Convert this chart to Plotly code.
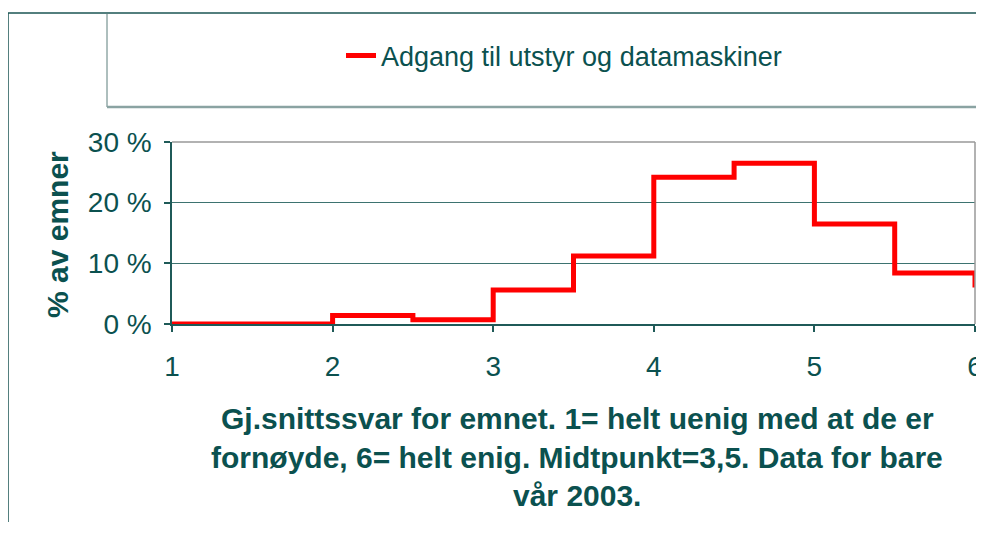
import plotly.graph_objects as go

# ---- data ----
x_vals = [1, 1.5, 2, 2.5, 3, 3.5, 4, 4.5, 5, 5.5, 6]
pct_vals = [0, 0, 1.4, 0.7, 5.6, 11.2, 24.2, 26.5, 16.5, 8.4, 6.0]
series_name = "Adgang til utstyr og datamaskiner"
y_ticks = [0, 10, 20, 30]
y_ticklabels = ["0 %", "10 %", "20 %", "30 %"]
x_ticks = [1, 2, 3, 4, 5, 6]
y_title = "% av emner"
x_title_lines = [
    "Gj.snittssvar for emnet. 1= helt uenig med at de er",
    "fornøyde, 6= helt enig. Midtpunkt=3,5. Data for bare",
    "vår 2003.",
]

TEXT = "#0b514f"
GRID = "#3d7370"
FONT = "Liberation Sans, Arial, sans-serif"

OFF = 8  # page body margin
W, H = 984 - OFF, 514
L = 172 - OFF
R = W - (975 - OFF)
T = 142 - OFF
B = H - (324 - OFF)
PW = W - L - R
PH = H - T - B


def px_x(p):  # window pixel -> paper
    return (p - OFF - L) / PW


def px_y(p):
    return (H - B - (p - OFF)) / PH


fig = go.Figure()
fig.add_trace(go.Scatter(
    x=x_vals, y=pct_vals, mode="lines", name=series_name,
    line=dict(color="#ff0000", width=5, shape="hv"),
    showlegend=True,
))

RIGHT = 984
shapes = [
    # outer frame
    dict(type="line", xref="paper", yref="paper", x0=px_x(8), x1=px_x(RIGHT),
         y0=px_y(13), y1=px_y(13), line=dict(color="#1a5553", width=1.5)),
    dict(type="line", xref="paper", yref="paper", x0=px_x(8), x1=px_x(8),
         y0=px_y(13), y1=px_y(8 + H), line=dict(color="#1a5553", width=1.5)),
    # legend box
    dict(type="line", xref="paper", yref="paper", x0=px_x(107), x1=px_x(107),
         y0=px_y(13), y1=px_y(107), line=dict(color="#5d7f7d", width=1)),
    dict(type="line", xref="paper", yref="paper", x0=px_x(107), x1=px_x(RIGHT),
         y0=px_y(107), y1=px_y(107), line=dict(color="#8aa3a2", width=2.5)),
    # plot area border (top/right)
    dict(type="line", xref="paper", yref="paper", x0=0, x1=1, y0=1, y1=1,
         line=dict(color="#999999", width=1.5)),
    dict(type="line", xref="paper", yref="paper", x0=1, x1=1, y0=0, y1=1,
         line=dict(color="#999999", width=1.5)),
]

annotations = []
line_y = [418, 457, 495]
for txt, yy in zip(x_title_lines, line_y):
    annotations.append(dict(
        text="<b>" + txt + "</b>", xref="paper", yref="paper",
        x=px_x(577), y=px_y(yy), xanchor="center", yanchor="middle",
        showarrow=False, font=dict(family=FONT, size=30, color=TEXT),
    ))
annotations.append(dict(
    text="<b>" + y_title + "</b>", xref="paper", yref="paper",
    x=px_x(57), y=px_y(235), xanchor="center", yanchor="middle",
    textangle=-90, showarrow=False,
    font=dict(family=FONT, size=30, color=TEXT),
))

fig.update_layout(
    width=W, height=H,
    margin=dict(l=L, r=R, t=T, b=B, pad=0, autoexpand=False),
    paper_bgcolor="white", plot_bgcolor="white",
    font=dict(family=FONT, color=TEXT),
    shapes=shapes,
    annotations=annotations,
    legend=dict(
        x=px_x(341), y=px_y(56), xanchor="left", yanchor="middle",
        bgcolor="rgba(0,0,0,0)", borderwidth=0,
        font=dict(family=FONT, size=27, color=TEXT),
        itemwidth=30,
    ),
    xaxis=dict(
        range=[1, 6], tickvals=x_ticks, ticktext=[str(v) for v in x_ticks],
        showgrid=False, zeroline=False, automargin=False,
        showline=True, linecolor="#1f5a58", linewidth=1.5,
        ticks="outside", ticklen=6, tickcolor="#1f5a58", tickwidth=1.5,
        tickfont=dict(family=FONT, size=28, color=TEXT),
        ticklabelstandoff=11,
    ),
    yaxis=dict(
        range=[0, 30], tickvals=y_ticks, ticktext=y_ticklabels,
        showgrid=True, gridcolor=GRID, gridwidth=1.2, zeroline=False,
        automargin=False,
        showline=True, linecolor="#1f5a58", linewidth=1.5,
        ticks="outside", ticklen=6, tickcolor="#1f5a58", tickwidth=1.5,
        tickfont=dict(family=FONT, size=28, color=TEXT),
        ticklabelstandoff=7,
    ),
)

fig.write_html("out.html")
